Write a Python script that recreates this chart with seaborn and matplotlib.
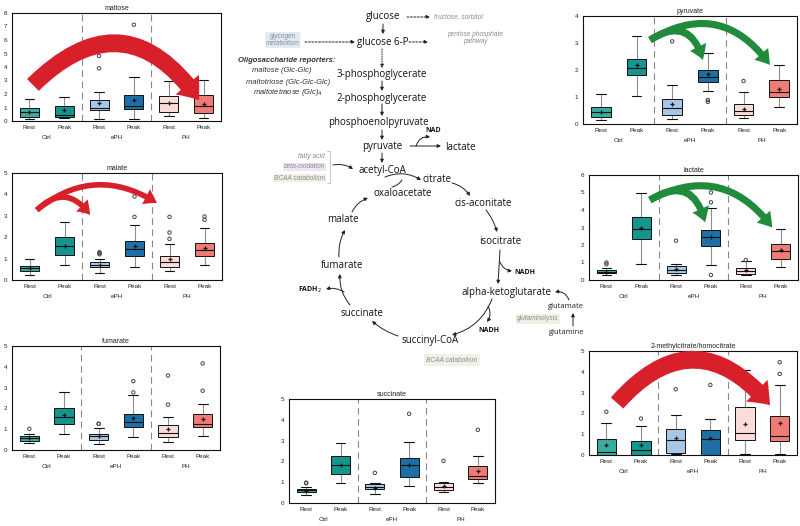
import pandas as pd
import seaborn as sns
import matplotlib.pyplot as plt
from matplotlib.patches import FancyArrowPatch

sns.set_style("white")
plt.rcParams['font.family'] = ['Liberation Sans', 'DejaVu Sans']

groups = ["Ctrl", "ePH", "PH"]
phases = ["Rest", "Peak"]
box_colors = ["#3aab9f", "#14958f", "#a8c6e5", "#1d6fa5", "#fcdcd8", "#ef7a76"]

# box summaries: [low whisker, q1, median, q3, high whisker]
maltose_box = [[0.17, 0.3, 0.67, 1.0, 1.64], [0.2, 0.3, 0.47, 1.1, 1.79],
               [0.15, 0.8, 1.0, 1.59, 2.16], [0.17, 0.92, 1.1, 1.91, 3.28],
               [0.4, 0.67, 1.37, 1.84, 2.96], [0.2, 0.6, 1.1, 1.91, 3.03]]
maltose_mean = [0.67, 0.8, 1.37, 1.59, 1.37, 1.27]
maltose_fliers = [[], [], [3.9, 4.82], [7.13], [], []]

malate_box = [[0.23, 0.42, 0.55, 0.66, 0.97], [0.69, 1.17, 1.58, 2.0, 2.73],
              [0.33, 0.59, 0.7, 0.83, 1.0], [0.61, 1.13, 1.44, 1.8, 2.55],
              [0.42, 0.63, 0.86, 1.1, 1.67], [0.69, 1.1, 1.38, 1.73, 2.42]]
malate_mean = [0.55, 1.58, 0.72, 1.59, 1.0, 1.48]
malate_fliers = [[], [], [1.2, 1.25, 1.3], [2.95, 3.9], [1.92, 2.22, 2.95], [2.81, 2.97]]

fumarate_box = [[0.32, 0.44, 0.56, 0.68, 0.77], [0.76, 1.24, 1.61, 2.02, 2.77],
                [0.27, 0.48, 0.65, 0.77, 1.08], [0.61, 1.11, 1.34, 1.74, 2.66],
                [0.4, 0.61, 0.84, 1.18, 1.58], [0.66, 1.11, 1.24, 1.74, 2.23]]
fumarate_mean = [0.58, 1.69, 0.68, 1.53, 1.0, 1.5]
fumarate_fliers = [[1.02], [], [1.26, 1.26], [2.77, 3.31], [2.18, 3.58], [2.85, 4.16]]

pyruvate_box = [[0.15, 0.25, 0.43, 0.62, 1.11], [1.03, 1.83, 2.09, 2.41, 3.25],
                [0.2, 0.34, 0.58, 0.94, 1.46], [1.23, 1.54, 1.75, 1.99, 2.63],
                [0.23, 0.34, 0.48, 0.74, 1.19], [0.62, 1.01, 1.17, 1.63, 2.2]]
pyruvate_mean = [0.43, 2.17, 0.73, 1.85, 0.57, 1.28]
pyruvate_fliers = [[], [], [3.06], [0.82, 0.89, 3.74], [1.59], []]

lactate_box = [[0.29, 0.38, 0.48, 0.55, 0.67], [0.9, 2.34, 2.9, 3.62, 5.0],
               [0.29, 0.38, 0.57, 0.82, 0.9], [0.86, 1.94, 2.48, 2.86, 4.1],
               [0.29, 0.32, 0.53, 0.67, 1.09], [0.74, 1.18, 1.66, 2.06, 2.91]]
lactate_mean = [0.48, 2.99, 0.61, 2.46, 0.55, 1.71]
lactate_fliers = [[0.9, 1.0], [], [2.25], [0.29, 4.44, 5.0], [1.14], []]

methylcitrate_box = [[0.0, 0.0, 0.13, 0.75, 1.55], [0.0, 0.0, 0.24, 0.67, 1.39],
                     [0.05, 0.08, 0.72, 1.23, 1.92], [0.0, 0.02, 0.75, 1.2, 1.71],
                     [0.03, 0.72, 1.07, 2.32, 4.09], [0.03, 0.69, 0.93, 1.88, 3.37]]
methylcitrate_mean = [0.46, 0.46, 0.83, 0.83, 1.47, 1.52]
methylcitrate_fliers = [[2.08], [1.75], [3.16], [3.37], [], [3.9, 4.46]]

succinate_box = [[0.37, 0.53, 0.61, 0.69, 0.77], [0.98, 1.39, 1.85, 2.26, 2.87],
                 [0.45, 0.65, 0.77, 0.9, 0.94], [0.81, 1.26, 1.82, 2.18, 2.95],
                 [0.52, 0.61, 0.77, 0.97, 1.03], [0.97, 1.15, 1.32, 1.77, 2.26]]
succinate_mean = [0.6, 1.85, 0.73, 1.85, 0.82, 1.53]
succinate_fliers = [[0.95, 0.98], [], [1.45], [4.29], [2.03], [3.52]]

W, H = 800, 526
fig = plt.figure(figsize=(8, 5.26), dpi=100)
fig.patch.set_facecolor("white")


def px_rect(l, t, r, b):
    return [l / W, 1 - b / H, (r - l) / W, (b - t) / H]


# ---------- pathway diagram (drawn on a full-figure pixel canvas) ----------
dg = fig.add_axes([0, 0, 1, 1])
dg.set_xlim(0, W)
dg.set_ylim(H, 0)
dg.axis("off")

node_font = dict(family=["Open Sans", "DejaVu Sans"], fontsize=7, color="#111111",
                 ha="center", va="center")
small_bold = dict(family=["Open Sans", "DejaVu Sans"], fontsize=5, color="#111111",
                  fontweight="bold", va="center")
note_font = dict(fontsize=4.8, color="#8c8c8c", style="italic", va="center")

nodes = {
    "glucose": (383, 17), "glucose 6-P": (383, 42), "3-phosphoglycerate": (382, 75),
    "2-phosphoglycerate": (382, 98), "phosphoenolpyruvate": (378, 123),
    "pyruvate": (382, 146), "lactate": (460, 148), "acetyl-CoA": (382, 170),
    "citrate": (437, 180), "oxaloacetate": (403, 194), "cis-aconitate": (483, 203),
    "isocitrate": (500, 242), "malate": (343, 220), "fumarate": (342, 266),
    "alpha-ketoglutarate": (507, 292), "succinate": (362, 313),
    "succinyl-CoA": (430, 340),
}
for label, (x, y) in nodes.items():
    dg.text(x, y, label, **node_font)

dg.text(425, 131, "NAD", ha="left", **small_bold)
dg.text(514, 272, "NADH", ha="left", **small_bold)
dg.text(478, 331, "NADH", ha="left", **small_bold)
dg.text(322, 290, "FADH$_2$", ha="right", **small_bold)
dg.text(548, 306, "glutamate", ha="left", family=["Open Sans", "DejaVu Sans"],
        fontsize=5.5, color="#222222", va="center")
dg.text(549, 332, "glutamine", ha="left", family=["Open Sans", "DejaVu Sans"],
        fontsize=5.5, color="#222222", va="center")

dg.text(434, 17, "fructose, sorbitol", ha="left", **note_font)
dg.text(475, 38, "pentose phosphate\npathway", ha="center", linespacing=1.1, **note_font)
dg.text(283, 40, "glycogen\nmetabolism", ha="center", linespacing=1.1,
        bbox=dict(boxstyle="round,pad=0.1", fc="#dfeaf5", ec="none"), **note_font)
dg.text(325, 156, "fatty acid", ha="right", **note_font)
dg.text(325, 167, "beta-oxidation", ha="right",
        bbox=dict(boxstyle="square,pad=0.1", fc="#eee6f2", ec="none"), **note_font)
dg.text(325, 178, "BCAA catabolism", ha="right",
        bbox=dict(boxstyle="square,pad=0.1", fc="#eef1e6", ec="none"), **note_font)
dg.plot([327, 330, 330, 327], [151, 151, 183, 183], color="#bbbbbb", lw=0.6)
dg.text(452, 360, "BCAA catabolism", ha="center",
        bbox=dict(boxstyle="square,pad=0.4", fc="#eef1e6", ec="none"), **note_font)
dg.text(538, 319, "glutaminolysis", ha="center",
        bbox=dict(boxstyle="square,pad=0.2", fc="#eef1e6", ec="none"), **note_font)

dg.text(287, 60, "Oligosaccharide reporters:", ha="center", fontsize=5.5,
        color="#333333", style="italic", fontweight="bold", va="center")
dg.text(282, 71, "maltose (Glc-Glc)", ha="center", fontsize=5.5, color="#333333",
        style="italic", va="center")
dg.text(288, 82, "maltotriose (Glc-Glc-Glc)", ha="center", fontsize=5.5,
        color="#333333", style="italic", va="center")
dg.text(288, 93, "maltotetraose (Glc)$_4$", ha="center", fontsize=5.5,
        color="#333333", style="italic", va="center")


def arr(x1, y1, x2, y2, rad=0.0, ls="-", head=True):
    dg.annotate("", xy=(x2, y2), xytext=(x1, y1),
                arrowprops=dict(arrowstyle="-|>" if head else "-", lw=0.7,
                                color="#222222", linestyle=ls, mutation_scale=5,
                                connectionstyle=f"arc3,rad={rad}",
                                shrinkA=0, shrinkB=0))


arr(383, 24, 383, 34)
arr(407, 17, 430, 17, ls=(0, (2, 1.5)))
arr(305, 42, 355, 42, ls=(0, (2, 1.5)))
arr(409, 42, 428, 42, ls=(0, (2, 1.5)))
arr(382, 49, 382, 68, ls=(0, (1, 1.5)))
arr(382, 81, 382, 91)
arr(382, 104, 382, 116)
arr(382, 130, 382, 140)
arr(410, 146, 441, 146)
arr(416, 146, 430, 137, rad=-0.4)
arr(382, 153, 382, 163)
arr(333, 165, 353, 169, rad=-0.2)
arr(385, 177, 421, 180, rad=-0.25)
arr(392, 187, 402, 180, rad=0.2, head=False)
arr(452, 183, 470, 196, rad=-0.2)
arr(486, 210, 497, 232, rad=-0.1)
arr(500, 250, 498, 284)
arr(500, 262, 512, 271, rad=0.3)
arr(492, 299, 452, 335, rad=-0.25)
arr(488, 306, 487, 322, rad=-0.3)
arr(398, 336, 372, 321, rad=-0.1)
arr(350, 305, 340, 274, rad=-0.2)
arr(344, 292, 326, 289, rad=0.2)
arr(339, 257, 345, 230, rad=-0.15)
arr(352, 212, 368, 198, rad=-0.2)
arr(569, 300, 555, 292, rad=0.4)
arr(573, 326, 573, 313)


# ---------- boxplot panels ----------
def draw_panel(title, box, mean, fliers, ymax, rect):
    ax = fig.add_axes(px_rect(*rect))
    stats = [dict(whislo=b[0], q1=b[1], med=b[2], q3=b[3], whishi=b[4], fliers=[])
             for b in box]
    parts = ax.bxp(stats, positions=range(6), widths=0.55, patch_artist=True,
                   showfliers=False, capwidths=0.28,
                   boxprops=dict(edgecolor="#111111", linewidth=0.7),
                   medianprops=dict(color="#111111", linewidth=0.8),
                   whiskerprops=dict(color="#333333", linewidth=0.8, linestyle=(0, (1, 0.8))),
                   capprops=dict(color="#111111", linewidth=0.8))
    for patch, c in zip(parts["boxes"], box_colors):
        patch.set_facecolor(c)

    mean_df = pd.DataFrame({"pos": range(6), "val": mean})
    sns.scatterplot(data=mean_df, x="pos", y="val", marker="+", color="#111111",
                    s=10, linewidth=0.9, ax=ax, zorder=5, legend=False)
    fl = pd.DataFrame([(i, v) for i, vals in enumerate(fliers) for v in vals],
                      columns=["pos", "val"])
    if len(fl):
        sns.scatterplot(data=fl, x="pos", y="val", marker="o", s=6, color="none",
                        edgecolor="#444444", linewidth=0.7, ax=ax, zorder=5,
                        legend=False)

    for xs in (1.5, 3.5):
        ax.axvline(xs, color="#888888", lw=0.8, dashes=(6, 4), zorder=0)
    ax.set_xlim(-0.5, 5.5)
    ax.set_ylim(0, ymax)
    ax.set_yticks(range(ymax + 1))
    ax.set_xticks(range(6))
    ax.set_xticklabels(phases * 3)
    ax.set_xlabel("")
    ax.set_ylabel("")
    ax.tick_params(axis="both", labelsize=4.5, length=2, width=0.6, pad=1.5,
                   colors="#222222", direction="out")
    ax.tick_params(axis="x", length=0, pad=3)
    for sp in ax.spines.values():
        sp.set_color("#111111")
        sp.set_linewidth(0.8)
    ax.set_title(title, fontsize=5, pad=2.5, color="#222222")
    for i, g in enumerate(groups):
        ax.annotate(g, xy=(2 * i + 0.5, 0), xycoords=("data", "axes fraction"),
                    xytext=(0, -12), textcoords="offset points", ha="center",
                    va="center", fontsize=4.5, color="#222222", annotation_clip=False)
    ax.set_facecolor("white")
    return ax


def big_arrow(ax, start, end, rad, color, tail, head_w, head_l):
    ax.add_patch(FancyArrowPatch(
        start, end, connectionstyle=f"arc3,rad={rad}",
        arrowstyle=f"simple,tail_width={tail},head_width={head_w},head_length={head_l}",
        mutation_scale=1, color=color, lw=0, shrinkA=0, shrinkB=0,
        clip_on=False, zorder=6))


red = "#d8202b"
green = "#1f8b3b"

ax = draw_panel("maltose", maltose_box, maltose_mean, maltose_fliers, 8, (12, 13, 221, 121))
big_arrow(ax, (0.1, 2.67), (4.87, 1.55), -0.59, red, 12, 22, 14)

ax = draw_panel("malate", malate_box, malate_mean, malate_fliers, 5, (12, 173, 222, 280))
big_arrow(ax, (0.21, 3.27), (1.73, 3.04), -0.58, red, 4, 12, 9)
big_arrow(ax, (0.21, 3.27), (3.64, 3.6), -0.36, red, 4, 12, 9)

draw_panel("fumarate", fumarate_box, fumarate_mean, fumarate_fliers, 5, (12, 346, 220, 450))

ax = draw_panel("pyruvate", pyruvate_box, pyruvate_mean, pyruvate_fliers, 4, (583, 16, 797, 124))
big_arrow(ax, (1.38, 3.11), (2.86, 2.37), -0.68, green, 5, 13, 10)
big_arrow(ax, (1.38, 3.11), (4.74, 2.19), -0.46, green, 5, 13, 10)

ax = draw_panel("lactate", lactate_box, lactate_mean, lactate_fliers, 6, (589, 175, 798, 280))
big_arrow(ax, (1.25, 4.57), (2.83, 3.3), -0.69, green, 5, 13, 10)
big_arrow(ax, (1.25, 4.57), (4.76, 3.0), -0.43, green, 5, 13, 10)

ax = draw_panel("2-methylcitrate/homocitrate", methylcitrate_box, methylcitrate_mean,
                methylcitrate_fliers, 5, (589, 351, 797, 455))
big_arrow(ax, (0.31, 2.5), (4.72, 2.4), -0.58, red, 12, 22, 14)

draw_panel("succinate", succinate_box, succinate_mean, succinate_fliers, 5, (289, 399, 495, 503))

fig.savefig("out.png", dpi=100, facecolor="white")
